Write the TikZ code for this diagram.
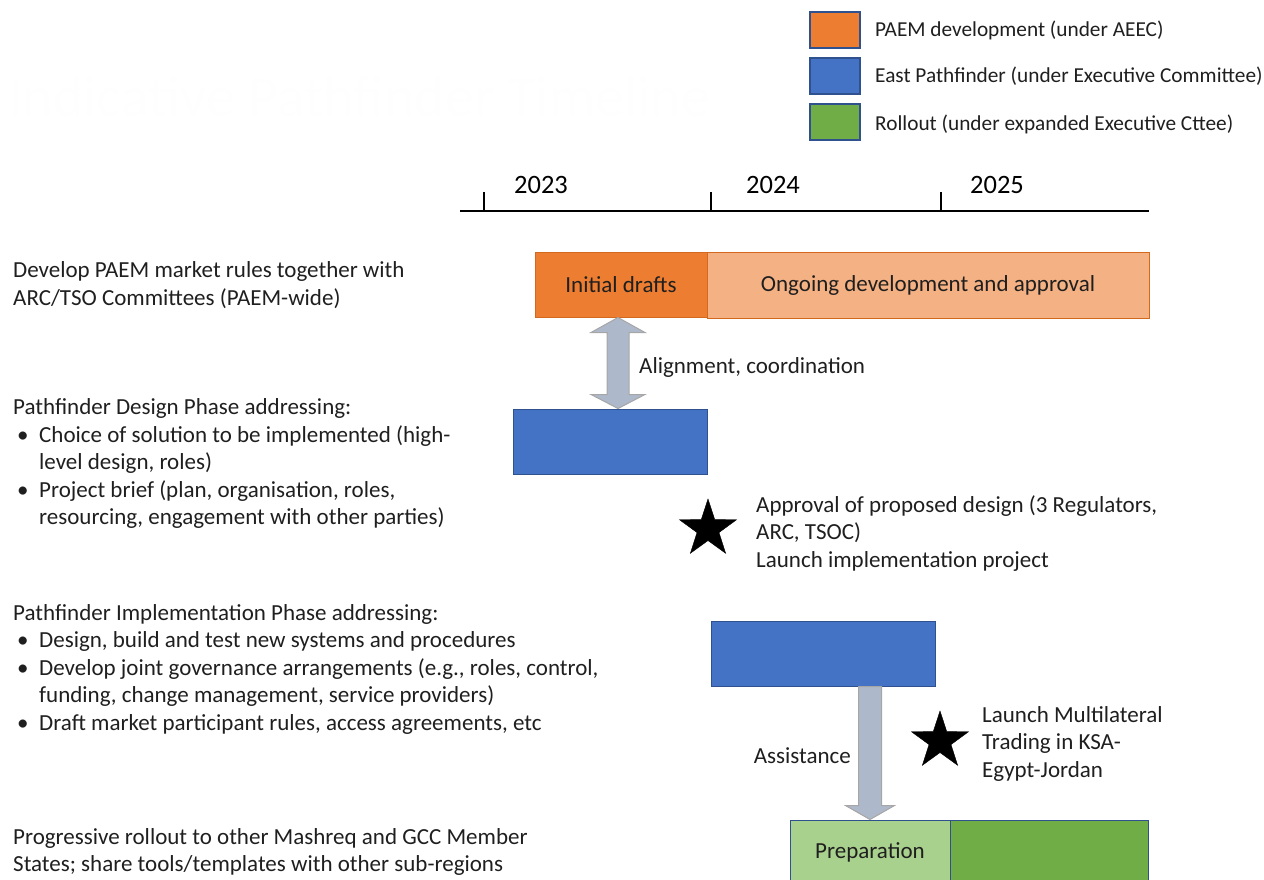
\documentclass[tikz,border=0pt]{standalone}
\usepackage{fontspec}
\setmainfont{Carlito}
\usetikzlibrary{shapes.geometric,calc}
\definecolor{cOrange}{HTML}{ED7D31}
\definecolor{cOrangeL}{HTML}{F4B183}
\definecolor{cOrangeB}{HTML}{D2691E}
\definecolor{cBlue}{HTML}{4472C4}
\definecolor{cBorder}{HTML}{2F528F}
\definecolor{cGreen}{HTML}{70AD47}
\definecolor{cGreenL}{HTML}{A9D18E}
\definecolor{cArrow}{HTML}{ADB9CA}
\definecolor{cArrowB}{HTML}{A6A6A6}
\definecolor{cGhost}{HTML}{FEFEFE}
\tikzset{
  txt/.style={inner sep=0pt, align=left, font={\fontsize{23}{27.5}\selectfont}, text=black!88},
  legtxt/.style={inner sep=0pt, align=left, font={\fontsize{21.3}{26}\selectfont}, text=black!88},
  yearlbl/.style={inner sep=0pt, font={\fontsize{26.5}{30}\selectfont}, text=black},
  bar/.style={draw, line width=1pt, inner sep=0pt, font={\fontsize{23}{27}\selectfont}, text=black!88},
  legbox/.style={draw=cBorder, line width=2pt, minimum width=50pt, minimum height=36pt, inner sep=0pt},
  blockarrow/.style={fill=cArrow, draw=cArrowB, line width=1pt},
  milestone/.style={star, star points=5, star point ratio=2.6, fill=black, draw=black, minimum size=60pt, inner sep=0pt},
}
\newcommand{\bul}{\makebox[26pt][l]{\hspace{4pt}•}}
\newcommand{\ind}{\hspace*{26pt}}
\begin{document}
\begin{tikzpicture}[x=1pt,y=-1pt]
\useasboundingbox (0,0) rectangle (1264,880);
% ghost title (nearly invisible in the reference)
\node[anchor=west, inner sep=0pt, font={\fontsize{58}{62}\selectfont}, text=cGhost] (title) at (8,97) {Indicative Pathfinder Timeline};
% legend
\node[legbox, fill=cOrange] (lg1) at (835,30) {};
\node[legbox, fill=cBlue] (lg2) at (835,76) {};
\node[legbox, fill=cGreen] (lg3) at (835,122.5) {};
\node[legtxt, anchor=west] (lt1) at (875,30) {PAEM development (under AEEC)};
\node[legtxt, anchor=west] (lt2) at (875,76) {East Pathfinder (under Executive Committee)};
\node[legtxt, anchor=west] (lt3) at (875,124) {Rollout (under expanded Executive Cttee)};
% timeline
\coordinate (tl0) at (460,211);
\coordinate (tl1) at (1149,211);
\draw[line width=2.5pt] (tl0) -- (tl1);
\foreach \x/\n in {484/a,711/b,941/c}{
  \coordinate (tick\n) at (\x,211);
  \draw[line width=2pt] (tick\n) -- ++(0,-19);
}
\node[yearlbl] (y23) at (541,185) {2023};
\node[yearlbl] (y24) at (773,185) {2024};
\node[yearlbl] (y25) at (997,185) {2025};
% left texts
\node[txt, anchor=west] (t1) at (13,285) {Develop PAEM market rules together with\\ARC/TSO Committees (PAEM-wide)};
\node[txt, anchor=west] (t2) at (13,463.5) {Pathfinder Design Phase addressing:\\
\bul Choice of solution to be implemented (high-\\
\ind level design, roles)\\
\bul Project brief (plan, organisation, roles,\\
\ind resourcing, engagement with other parties)};
\node[txt, anchor=west] (t3) at (13,669) {Pathfinder Implementation Phase addressing:\\
\bul Design, build and test new systems and procedures\\
\bul Develop joint governance arrangements (e.g., roles, control,\\
\ind funding, change management, service providers)\\
\bul Draft market participant rules, access agreements, etc};
\node[txt, anchor=west] (t4) at (13,852) {Progressive rollout to other Mashreq and GCC Member\\States; share tools/templates with other sub-regions};
% bars
\node[bar, draw=cOrangeB, fill=cOrange, minimum width=172pt, minimum height=65pt] (drafts) at (621,284.5) {Initial drafts};
\node[bar, draw=cOrangeB, fill=cOrangeL, minimum width=442pt, minimum height=66pt] (ongoing) at (928,285) {Ongoing development and approval};
\node[bar, draw=cBorder, fill=cBlue, minimum width=194pt, minimum height=65pt] (design) at (610,441.5) {};
\node[bar, draw=cBorder, fill=cBlue, minimum width=224pt, minimum height=65pt] (impl) at (823,653.5) {};
\node[bar, draw=cBorder, fill=cGreenL, minimum width=160pt, minimum height=65pt] (prep) at (870,852.5) {Preparation};
\node[bar, draw=cBorder, fill=cGreen, minimum width=198pt, minimum height=65pt] (roll) at (1049,852.5) {};
% double arrow
\coordinate (ax1) at (618,0);
\coordinate (T) at (drafts.south -| ax1);
\coordinate (B) at (design.north -| ax1);
\draw[blockarrow] let \p1=(T), \p2=(B) in
  (\x1,\y1) -- (\x1+27pt,\y1-15pt) -- (\x1+11pt,\y1-15pt) -- (\x1+11pt,\y2+14pt) -- (\x1+27pt,\y2+14pt)
  -- (\x1,\y2) -- (\x1-27pt,\y2+14pt) -- (\x1-11pt,\y2+14pt) -- (\x1-11pt,\y1-15pt) -- (\x1-27pt,\y1-15pt) -- cycle;
\node[txt, anchor=west] (align) at (639,367) {Alignment, coordination};
% single arrow
\coordinate (ax2) at (870,0);
\coordinate (S) at (impl.south -| ax2);
\coordinate (E) at (prep.north -| ax2);
\draw[blockarrow] let \p1=(S), \p2=(E) in
  (\x1-11.5pt,\y1) -- (\x1-11.5pt,\y2+14pt) -- (\x1-24.5pt,\y2+14pt) -- (\x1,\y2)
  -- (\x1+24.5pt,\y2+14pt) -- (\x1+11.5pt,\y2+14pt) -- (\x1+11.5pt,\y1) -- cycle;
\node[txt, anchor=east] (assist) at (851,756) {Assistance};
% milestones
\node[milestone] (star1) at (708,529) {};
\node[txt, anchor=west] (m1) at (756,533.5) {Approval of proposed design (3 Regulators,\\ARC, TSOC)\\Launch implementation project};
\node[milestone] (star2) at (940,741) {};
\node[txt, anchor=west] (m2) at (982,743.5) {Launch Multilateral\\Trading in KSA-\\Egypt-Jordan};
\end{tikzpicture}
\end{document}
